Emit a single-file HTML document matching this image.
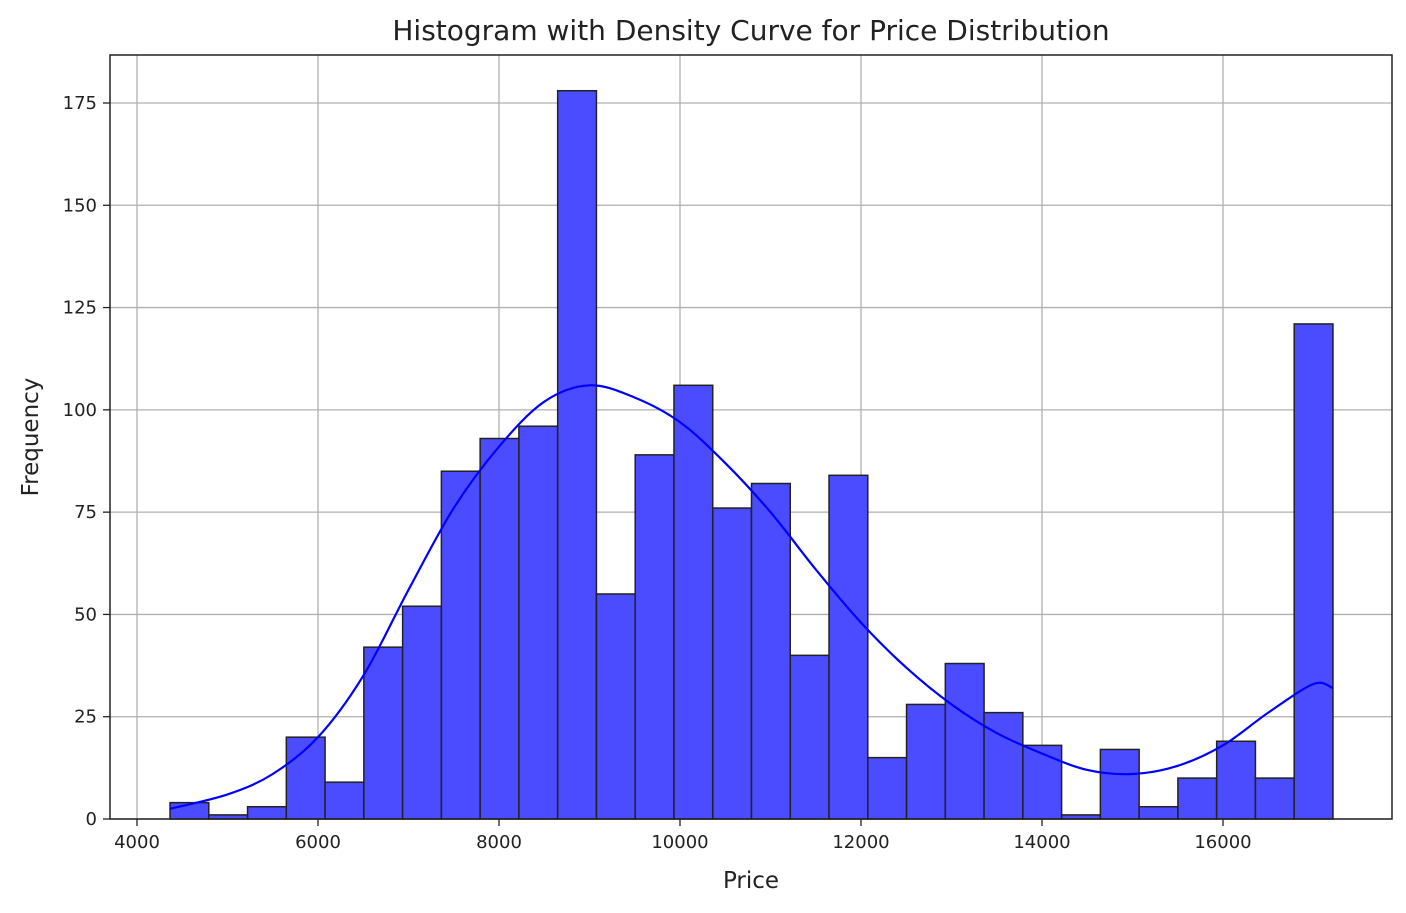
<!DOCTYPE html>
<html><head><meta charset="utf-8">
<style>
body{margin:0;background:#fff;font-family:"Liberation Sans","DejaVu Sans",sans-serif;}
svg text{font-family:"DejaVu Sans","Liberation Sans",sans-serif;}
</style></head>
<body>
<svg id="chart" width="1406" height="908" xmlns="http://www.w3.org/2000/svg">
<text x="751" y="40" font-size="28" text-anchor="middle" fill="#222">Histogram with Density Curve for Price Distribution</text>
<g id="grid"></g>
<g id="bars"></g>
<g id="curve"></g>
<rect x="110" y="55" width="1282" height="764" fill="none" stroke="#222" stroke-width="1.5"/>
<g id="ticks"></g>
<text x="751" y="888" font-size="23" text-anchor="middle" fill="#222">Price</text>
<text x="38" y="437" font-size="23" text-anchor="middle" fill="#222" transform="rotate(-90 38 437)">Frequency</text>
</svg>
<script>
const counts=[4,1,3,20,9,42,52,85,93,96,178,55,89,106,76,82,40,84,15,28,38,26,18,1,17,3,10,19,10,121];
const binStart=4365, binEnd=17215;
const xTicks=[4000,6000,8000,10000,12000,14000,16000];
const yTicks=[0,25,50,75,100,125,150,175];
const kdeX=[4365,5000,5500,6000,6500,7000,7500,8000,8500,9000,9500,10000,10500,11000,11500,12000,12500,13000,13500,14000,14500,15000,15500,16000,16500,17000,17215];
const kdeY=[2.5,6,11,20,35,56,76,91,102,106,103,97,87,75,61,48,37,28,21,16,12,11,13,18,26,33,32];
const NS="http://www.w3.org/2000/svg";
function X(v){return 137+(v-4000)*181/2000;}
function Y(v){return 819-v*716/175;}
function mk(tag,attrs,parent){const e=document.createElementNS(NS,tag);for(const k in attrs)e.setAttribute(k,attrs[k]);document.getElementById(parent).appendChild(e);return e;}
xTicks.forEach(t=>{
 const l=mk('line',{x1:X(t),x2:X(t),y1:55,y2:819,stroke:'#b0b0b0','stroke-width':1.3},'grid');
 
 
 const tk=mk('line',{x1:X(t),x2:X(t),y1:819,y2:826,stroke:'#222','stroke-width':1.3},'ticks');
 
 
 const tx=mk('text',{x:X(t),y:848,'font-size':18,'text-anchor':'middle',fill:'#222'},'ticks');
 tx.textContent=t;
 
 
});
yTicks.forEach(t=>{
 const l=mk('line',{x1:110,x2:1392,y1:Y(t),y2:Y(t),stroke:'#b0b0b0','stroke-width':1.3},'grid');
 
 
 const tk=mk('line',{x1:103,x2:110,y1:Y(t),y2:Y(t),stroke:'#222','stroke-width':1.3},'ticks');
 
 
 const tx=mk('text',{x:97,y:Y(t)+6,'font-size':18,'text-anchor':'end',fill:'#222'},'ticks');
 tx.textContent=t;
 
 
});
const bw=(binEnd-binStart)/counts.length;
counts.forEach((c,i)=>{
 const x0=X(binStart+i*bw),x1=X(binStart+(i+1)*bw);
 const r=mk('rect',{x:x0,y:Y(c),width:x1-x0,height:Y(0)-Y(c),fill:'#4b4bff',stroke:'#222','stroke-width':1.5},'bars');
 
 
});
const pts=kdeX.map((v,i)=>[X(v),Y(kdeY[i])]);
let d='M'+pts[0][0]+','+pts[0][1];
for(let i=0;i<pts.length-1;i++){
 const p0=pts[Math.max(0,i-1)],p1=pts[i],p2=pts[i+1],p3=pts[Math.min(pts.length-1,i+2)];
 const c1=[p1[0]+(p2[0]-p0[0])/6,p1[1]+(p2[1]-p0[1])/6];
 const c2=[p2[0]-(p3[0]-p1[0])/6,p2[1]-(p3[1]-p1[1])/6];
 d+=' C'+c1+' '+c2+' '+p2;
}
const path=mk('path',{d:d,fill:'none',stroke:'#0000ff','stroke-width':2.2},'curve');


</script>
</body></html>
